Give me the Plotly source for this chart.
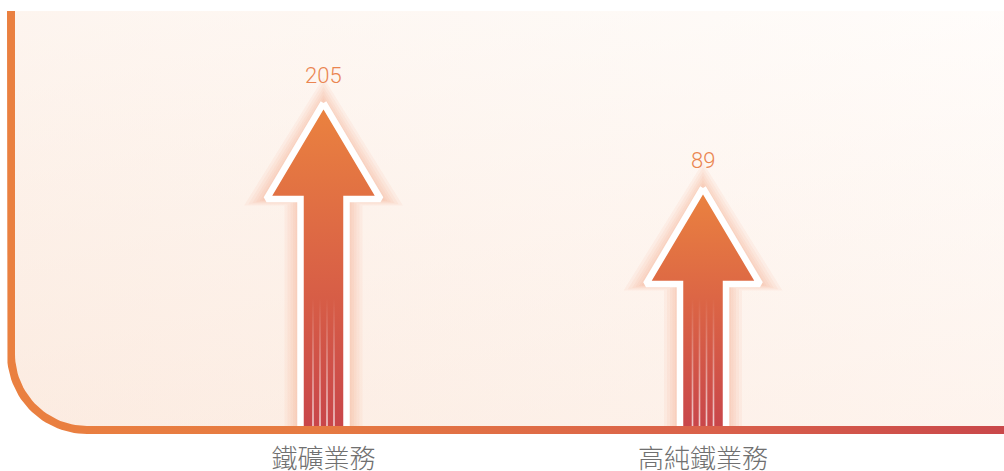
import numpy as np
import plotly.graph_objects as go

# ---------------- data ----------------
categories = ["鐵礦業務", "高純鐵業務"]
values = [205, 89]

# ---------------- geometry / scale (screen pixels) ----------------
W, H = 1004, 471
X0_PX = 323.5          # screen x of first category
X_STEP_PX = 379.5      # pixel distance between categories
BASE_PX = 430          # screen y of the baseline (axis line centre)
TOP_PX = 11            # top of plotting frame
LEFT_PX = 11           # left frame line centre
K_PX = 0.7328          # pixels per value unit
Y_BASE = -241.2        # value at the baseline
CORNER_R = 76

def dx(px):
    return (px - X0_PX) / X_STEP_PX

def dy(py):
    return Y_BASE + (BASE_PX - py) / K_PX

def to_py(v):
    return BASE_PX - (v - Y_BASE) * K_PX

def conv(pts):
    xs = [dx(p[0]) for p in pts]
    ys = [dy(p[1]) for p in pts]
    return xs, ys

def arc(cx, cy, R, n=30, reverse=False):
    t = np.linspace(0, np.pi / 2, n)
    pts = [(cx - R * np.cos(a), cy + R * np.sin(a)) for a in t]
    return pts[::-1] if reverse else pts

fig = go.Figure()

# ---------------- background panel ----------------
C = (LEFT_PX + CORNER_R, BASE_PX - CORNER_R)
bg = [(LEFT_PX, TOP_PX)] + arc(C[0], C[1], CORNER_R) + [(W + 20, BASE_PX), (W + 20, TOP_PX), (LEFT_PX, TOP_PX)]
bx, by = conv(bg)
fig.add_trace(go.Scatter(x=bx, y=by, mode="lines", fill="toself", line=dict(width=0),
                         fillgradient=dict(type="horizontal",
                                           colorscale=[[0, "#FCEEE4"], [1, "#FFFBF8"]]),
                         hoverinfo="skip"))
fig.add_trace(go.Scatter(x=bx, y=by, mode="lines", fill="toself", line=dict(width=0),
                         fillgradient=dict(type="vertical",
                                           colorscale=[[0, "rgba(251,230,218,0.35)"],
                                                       [1, "rgba(255,255,255,0.4)"]]),
                         hoverinfo="skip"))

# ---------------- arrows ----------------
HEAD_H = 96
HEAD_HW = 57
SHAFT_HW = 23

def arrow_pts(cx, tip, hh, hw, sw, base):
    return [(cx, tip), (cx + hw, tip + hh), (cx + sw, tip + hh), (cx + sw, base),
            (cx - sw, base), (cx - sw, tip + hh), (cx - hw, tip + hh), (cx, tip)]

for i, v in enumerate(values):
    cx = X0_PX + i * X_STEP_PX
    tip = to_py(v)
    # soft glow
    for d in [16, 13, 10, 7.5, 5, 3]:
        gx, gy = conv(arrow_pts(cx, tip - 1.6 * d, HEAD_H + 2.0 * d, HEAD_HW + 1.4 * d,
                                SHAFT_HW + d, BASE_PX))
        fig.add_trace(go.Scatter(x=gx, y=gy, mode="lines", fill="toself", line=dict(width=0),
                                 fillcolor="rgba(240,140,95,0.065)", hoverinfo="skip"))

for i, v in enumerate(values):
    cx = X0_PX + i * X_STEP_PX
    tip = to_py(v)
    ax_, ay_ = conv(arrow_pts(cx, tip, HEAD_H, HEAD_HW, SHAFT_HW, BASE_PX))
    fig.add_trace(go.Scatter(x=ax_, y=ay_, mode="lines", fill="toself",
                             line=dict(width=6.5, color="white"),
                             fillgradient=dict(type="vertical",
                                               colorscale=[[0, "#C8454A"], [0.55, "#DC6645"],
                                                           [1, "#EB833F"]]),
                             hoverinfo="skip"))
    # light streaks in the shaft
    for off in [-10.5, -3.5, 3.5, 10.5]:
        sx = cx + off
        sp = [(sx - 0.8, 298), (sx + 0.8, 298), (sx + 0.8, BASE_PX), (sx - 0.8, BASE_PX), (sx - 0.8, 298)]
        lx, ly = conv(sp)
        fig.add_trace(go.Scatter(x=lx, y=ly, mode="lines", fill="toself", line=dict(width=0),
                                 fillgradient=dict(type="vertical",
                                                   colorscale=[[0, "rgba(255,255,255,0.75)"],
                                                               [1, "rgba(255,255,255,0)"]]),
                                 hoverinfo="skip"))

# ---------------- frame line (left + bottom, rounded corner) ----------------
LW = 8
h = LW / 2
outer = [(LEFT_PX - h, TOP_PX)] + arc(C[0], C[1], CORNER_R + h) + [(W + 20, BASE_PX + h)]
inner = [(W + 20, BASE_PX - h)] + arc(C[0], C[1], CORNER_R - h, reverse=True) + [(LEFT_PX + h, TOP_PX)]
band = outer + inner + [(LEFT_PX - h, TOP_PX)]
fx, fy = conv(band)
fig.add_trace(go.Scatter(x=fx, y=fy, mode="lines", fill="toself", line=dict(width=0),
                         fillgradient=dict(type="horizontal",
                                           colorscale=[[0, "#EA8040"], [0.3, "#E67A41"],
                                                       [0.7, "#D9604A"], [1, "#C8464A"]]),
                         hoverinfo="skip"))

# ---------------- value labels ----------------
for i, v in enumerate(values):
    fig.add_annotation(x=i, y=v, yshift=28, text=str(v), showarrow=False,
                       font=dict(family="Roboto", size=22, color="#EA8550", weight=300))

fig.update_layout(
    template="none",
    width=W, height=H,
    margin=dict(l=0, r=0, t=0, b=0),
    paper_bgcolor="white", plot_bgcolor="rgba(0,0,0,0)",
    showlegend=False,
    xaxis=dict(domain=[0, 1], range=[dx(0), dx(W)], tickmode="array",
               tickvals=[0, 1], ticktext=categories, showgrid=False, zeroline=False,
               showline=False, ticks="", anchor="free",
               position=(H - BASE_PX) / H, automargin=False,
               ticklabelstandoff=11,
               tickfont=dict(family="Noto Sans CJK TC", size=26, color="#707070", weight=300)),
    yaxis=dict(domain=[0, 1], range=[dy(H), dy(0)], visible=False, automargin=False),
)

fig.write_html("out.html",
               config={"displayModeBar": False},
               post_script="document.body.style.margin='0';document.body.style.overflow='hidden';")
